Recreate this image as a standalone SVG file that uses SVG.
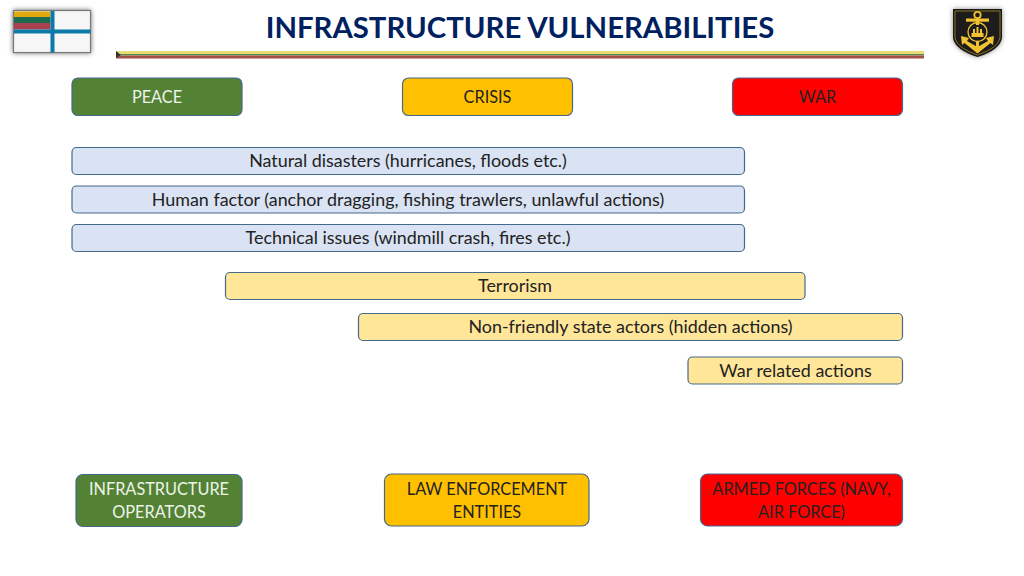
<svg xmlns="http://www.w3.org/2000/svg" width="1024" height="576" viewBox="0 0 1024 576">
<style>
text{font-family:"Lato","Open Sans",sans-serif;font-size:17.9px;text-anchor:middle;fill:#222}
.t{font-size:29.3px;font-weight:700;fill:#002060}
.c{font-size:16.3px}
.w{fill:#eef3ea}
.box{stroke:#44698a;stroke-width:1.2}
.g{fill:#548235}.y{fill:#ffc000}.r{fill:#ff0000}.b{fill:#dae3f3}.l{fill:#ffe699}
.gd{fill:#f2c230}
</style>
<defs><filter id="s" x="-30%" y="-30%" width="160%" height="160%"><feGaussianBlur stdDeviation="2.5"/></filter>
<filter id="m" x="-5%" y="-5%" width="110%" height="110%"><feGaussianBlur stdDeviation="0.4"/></filter></defs>
<rect width="1024" height="576" fill="#fff"/>
<g id="title"><text class="t" x="520" y="38">INFRASTRUCTURE VULNERABILITIES</text></g>
<g id="rule">
<rect x="116" y="51" width="808" height="3" fill="#e8dc78"/>
<rect x="116" y="54" width="808" height="1.500" fill="#5b8a45"/>
<rect x="116" y="55.500" width="808" height="3" fill="#a4504a"/>
<path d="M116 51L121 55L116 58Z" fill="#333"/>
</g>
<g id="flag">
<rect x="13" y="10" width="78" height="43" fill="#666" filter="url(#s)"/>
<g filter="url(#m)">
<rect x="13.500" y="10.500" width="77" height="42" fill="#f6f6f6" stroke="#7a7a7a" stroke-width="1.200"/>
<rect x="14" y="11.500" width="36.500" height="5.500" fill="#e0a911"/>
<rect x="14" y="17" width="36.500" height="6" fill="#1b6a4f"/>
<rect x="14" y="23" width="36.500" height="6.500" fill="#a83f50"/>
<rect x="14" y="29.500" width="76.500" height="4" fill="#0b79a8"/>
<rect x="50.500" y="11" width="4" height="41.500" fill="#0b79a8"/>
</g>
</g>
<g id="crest">
<path d="M953 9H1002V38Q1000 50 977.500 57Q955 50 953 38Z" fill="#888" filter="url(#s)"/>
<g filter="url(#m)">
<path d="M953 9H1002V38Q1000 50 977.500 57Q955 50 953 38Z" fill="#1c1a1a"/>
<path d="M955 11H1000V38Q998 48 977.500 55Q957 48 955 38Z" fill="none" stroke="#a88a25" stroke-width="0.800"/>
<circle cx="977.500" cy="15" r="3.200" fill="none" stroke="#f2c230" stroke-width="1.800"/>
<rect class="gd" x="966" y="18.500" width="23" height="3.200"/>
<rect class="gd" x="976" y="21" width="3" height="4"/>
<circle cx="977.500" cy="32" r="9.500" fill="none" stroke="#f2c230" stroke-width="1.300"/>
<path class="gd" d="M971.500 37V33H973V29H975V33H976.500V27H978.500V33H980V29H982V33H983.500V37Z"/>
<rect class="gd" x="976" y="41" width="3" height="6"/>
<path class="gd" d="M961 36L969 38L967 41L977.500 47L988 41L986 38L994 36L993 45L990.500 43L977.500 53.500L964.500 43L962 45Z"/>
</g>
</g>
<g id="peace"><rect class="box g" x="72" y="78" width="170" height="37.500" rx="6"/><text class="c w" x="157" y="103">PEACE</text></g>
<g id="crisis"><rect class="box y" x="402.500" y="78" width="170" height="37.500" rx="6"/><text class="c" x="487.500" y="103">CRISIS</text></g>
<g id="war"><rect class="box r" x="732.500" y="78" width="170" height="37.500" rx="6"/><text class="c" x="817.500" y="103">WAR</text></g>
<g id="natural"><rect class="box b" x="72" y="147.500" width="672.500" height="27" rx="4.500"/><text x="408" y="167">Natural disasters (hurricanes, floods etc.)</text></g>
<g id="human"><rect class="box b" x="72" y="186" width="672.500" height="27" rx="4.500"/><text x="408" y="205.500">Human factor (anchor dragging, fishing trawlers, unlawful actions)</text></g>
<g id="technical"><rect class="box b" x="72" y="224.500" width="672.500" height="27" rx="4.500"/><text x="408" y="244">Technical issues (windmill crash, fires etc.)</text></g>
<g id="terrorism"><rect class="box l" x="225.500" y="272.500" width="579.500" height="27" rx="4.500"/><text x="515" y="292">Terrorism</text></g>
<g id="nonfriendly"><rect class="box l" x="358.500" y="313.500" width="544" height="27" rx="4.500"/><text x="630.500" y="333">Non-friendly state actors (hidden actions)</text></g>
<g id="warrelated"><rect class="box l" x="688" y="357" width="214.500" height="27" rx="4.500"/><text x="795.500" y="377">War related actions</text></g>
<g id="operators"><rect class="box g" x="76" y="474.500" width="166" height="52" rx="7"/><text class="c w" x="159" y="495">INFRASTRUCTURE</text><text class="c w" x="159" y="518">OPERATORS</text></g>
<g id="law"><rect class="box y" x="384.500" y="474" width="204.500" height="52" rx="7"/><text class="c" x="487" y="494.500">LAW ENFORCEMENT</text><text class="c" x="487" y="517.500">ENTITIES</text></g>
<g id="armed"><rect class="box r" x="700.500" y="474" width="202" height="52" rx="7"/><text class="c" x="801.500" y="494.500">ARMED FORCES (NAVY,</text><text class="c" x="801.500" y="517.500">AIR FORCE)</text></g>
<g id="connectors"></g>
</svg>
